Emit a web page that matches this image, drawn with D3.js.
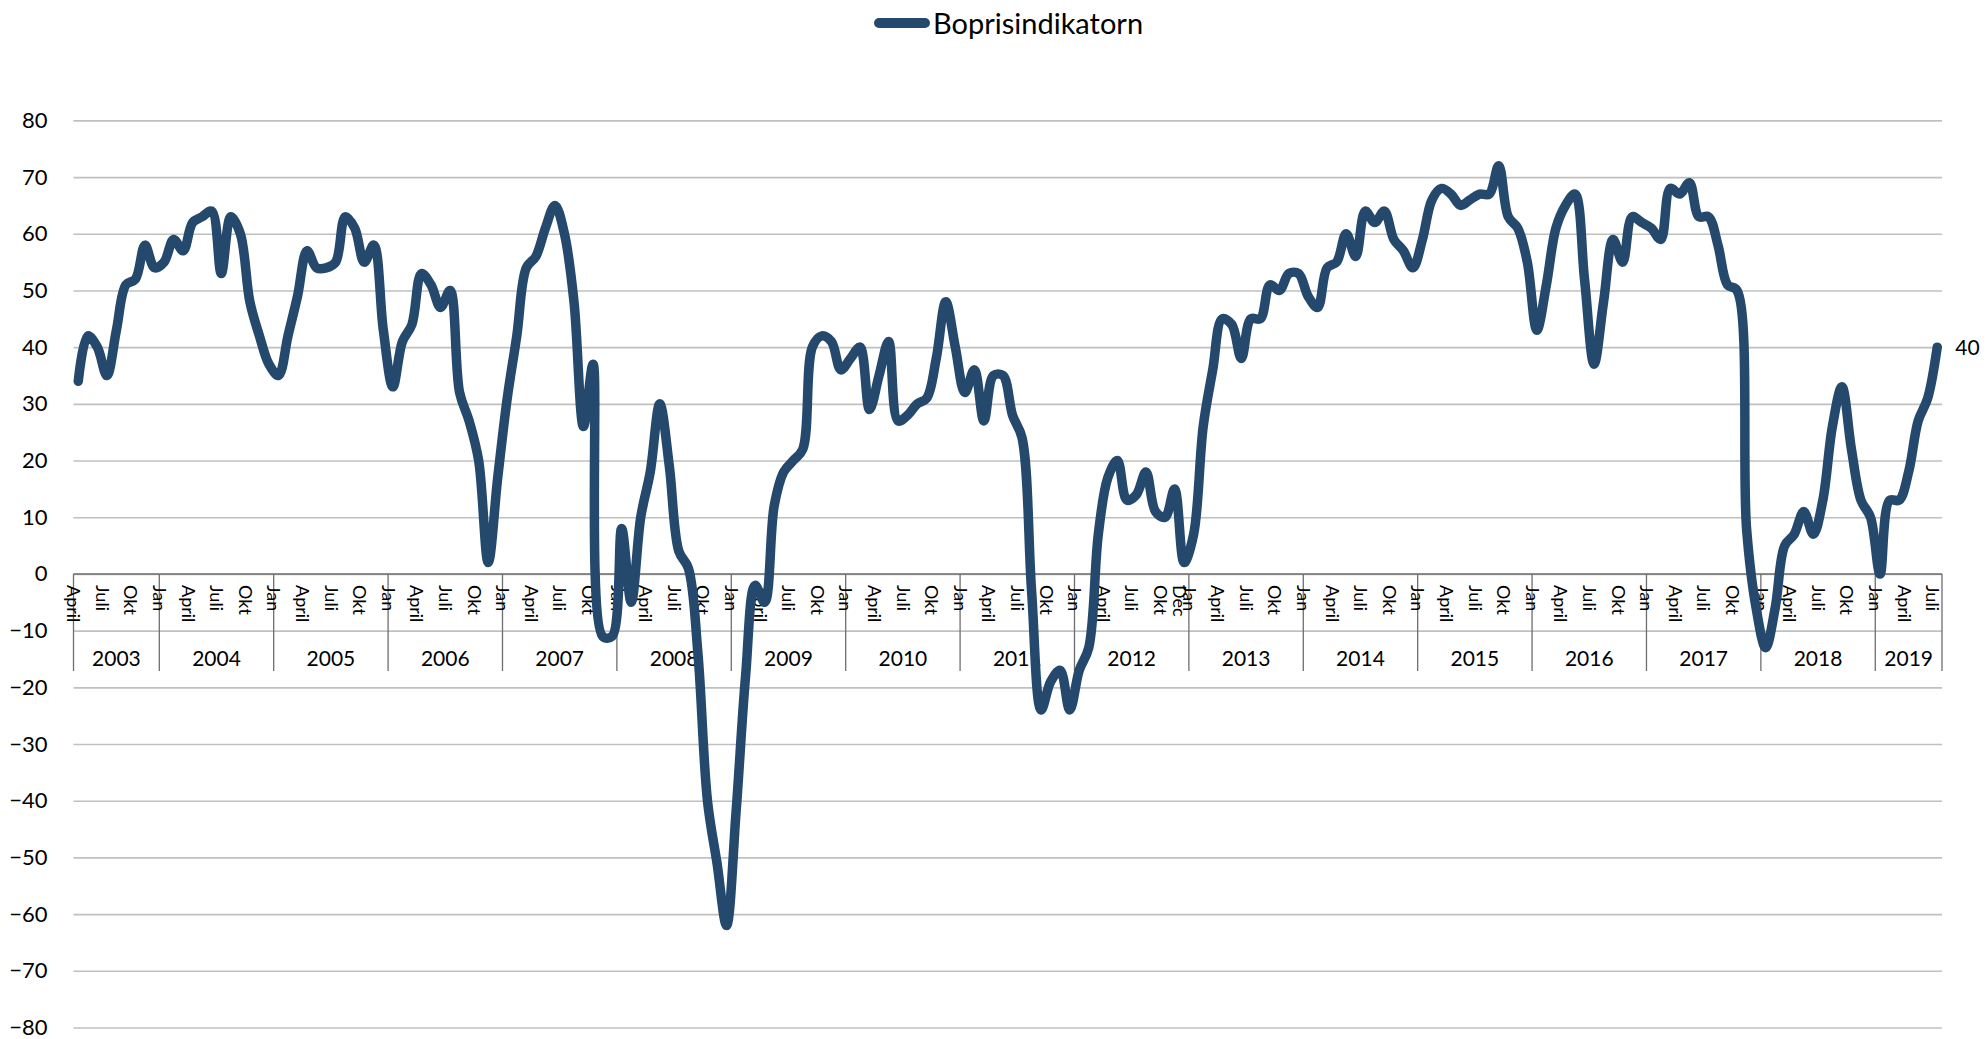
<!DOCTYPE html>
<html>
<head>
<meta charset="UTF-8">
<title>Boprisindikatorn</title>
<script src="https://cdn.jsdelivr.net/npm/d3@7/dist/d3.min.js"></script>
<style>
  body { margin: 0; background: #ffffff; }
  text { font-family: Lato, "Open Sans", sans-serif; fill: #000; }
</style>
</head>
<body>
<script>
// data: monthly, April 2003 - July 2019
var startYear = 2003, startMonth = 3; // 0 = Jan
var monthNames = ["Jan", "Feb", "Mars", "April", "Maj", "Juni", "Juli", "Aug", "Sep", "Okt", "Nov", "Dec"];
var labelMonths = ["Jan", "April", "Juli", "Okt"];
var extraLabels = ["2012-Dec"];
var years = [2003, 2004, 2005, 2006, 2007, 2008, 2009, 2010, 2011, 2012, 2013, 2014, 2015, 2016, 2017, 2018, 2019];
var yTicks = [80, 70, 60, 50, 40, 30, 20, 10, 0, -10, -20, -30, -40, -50, -60, -70, -80];
var seriesName = "Boprisindikatorn";

var values = [
  34, 42, 40, 35, 43, 51, 52, 58, 54, 55, 59, 57,
  62, 63, 64, 53, 63, 60, 48, 42, 37, 35, 42, 49,
  57, 54, 54, 55, 63, 61, 55, 58, 43, 33, 41, 44,
  53, 51, 47, 50, 32, 27, 20, 2, 17, 31, 42, 54,
  56, 61, 65, 60, 48, 26, 37, -11, -11, 8, -5, 10,
  18, 30, 19, 4, 1, -14, -40, -51, -62, -42, -18, -2,
  -5, 12, 18, 20, 22, 40, 42, 41, 36, 38, 40, 29,
  35, 41, 27, 28, 30, 31, 38, 48, 40, 32, 36, 27,
  35, 35, 28, 24, -3, -24, -19, -17, -24, -17, -13, 7,
  17, 20, 13, 14, 18, 11, 10, 15, 2, 7, 26, 36,
  45, 44, 38, 45, 45, 51, 50, 53, 53, 49, 47, 54,
  55, 60, 56, 64, 62, 64, 59, 57, 54, 59, 66, 68,
  67, 65, 66, 67, 67, 72, 63, 61, 55, 43, 51, 61,
  65, 67, 52, 37, 48, 59, 55, 63, 62, 61, 59, 68,
  67, 69, 63, 63, 58, 51, 50, 8, -6, -13, -6, 5,
  7, 11, 7, 13, 26, 33, 22, 13, 10, 0, 13, 13,
  18, 27, 31, 40
];

var categories = values.map(function (d, i) {
    var m = startMonth + i;
    return { year: startYear + Math.floor(m / 12), month: monthNames[m % 12], idx: i };
});

var W = 1988, H = 1039;
var plotLeft = 73.5, plotRight = 1942, plotTop = 120.4, plotBottom = 1027.5;

var svg = d3.select("body").append("svg")
    .attr("width", W).attr("height", H);

var x = d3.scaleBand().domain(d3.range(values.length)).range([plotLeft, plotRight]).padding(0);
var y = d3.scaleLinear().domain([-80, 80]).range([plotBottom, plotTop]);
var bw = x.bandwidth();

// gridlines + y labels
var yAxis = d3.axisLeft(y).tickValues(yTicks).tickSize(-(plotRight - plotLeft)).tickPadding(26);
var gy = svg.append("g").attr("transform", "translate(" + plotLeft + ",0)").call(yAxis);
gy.select(".domain").remove();
gy.selectAll(".tick line").attr("stroke", "#c0c0c0").attr("stroke-width", 1.6);
gy.selectAll(".tick text").style("font-size", "22px").attr("fill", "#000");

// category axis
var y0 = y(0), yLabelTop = 585, yBoxBottom = 671;
svg.append("line")
    .attr("x1", plotLeft).attr("x2", plotRight).attr("y1", y0).attr("y2", y0)
    .attr("stroke", "#6e6e6e").attr("stroke-width", 1.5);

var yearBounds = [];
years.forEach(function (yr) {
    var idx = categories.filter(function (c) { return c.year === yr; }).map(function (c) { return c.idx; });
    yearBounds.push({ year: yr, first: d3.min(idx), last: d3.max(idx) });
});

var dividers = yearBounds.map(function (b) { return x(b.first); }).concat([plotRight]);
svg.selectAll("line.div").data(dividers).enter().append("line")
    .attr("class", "div")
    .attr("x1", function (d) { return d; }).attr("x2", function (d) { return d; })
    .attr("y1", y0).attr("y2", yBoxBottom)
    .attr("stroke", "#6e6e6e").attr("stroke-width", 1.3);

var labelled = categories.filter(function (c) {
    return labelMonths.indexOf(c.month) >= 0 || extraLabels.indexOf(c.year + "-" + c.month) >= 0;
});
svg.selectAll("text.mon").data(labelled).enter().append("text")
    .attr("class", "mon")
    .attr("transform", function (c) { return "translate(" + x(c.idx) + "," + yLabelTop + ") rotate(90)"; })
    .attr("dy", "0.35em")
    .style("font-size", "18px")
    .text(function (c) { return c.month; });

svg.selectAll("text.yr").data(yearBounds).enter().append("text")
    .attr("class", "yr")
    .attr("x", function (b) { return (x(b.first) + x(b.last) + bw) / 2; })
    .attr("y", 659)
    .attr("dy", "0.35em")
    .attr("text-anchor", "middle")
    .style("font-size", "21px")
    .text(function (b) { return b.year; });

// series line
var line = d3.line()
    .x(function (d, i) { return x(i) + bw / 2; })
    .y(function (d) { return y(d); })
    .curve(d3.curveCatmullRom.alpha(0.5));

svg.append("path").datum(values)
    .attr("d", line)
    .attr("fill", "none")
    .attr("stroke", "#24496d")
    .attr("stroke-width", 9.5)
    .attr("stroke-linejoin", "round")
    .attr("stroke-linecap", "round");

// last value label
var last = values.length - 1;
svg.append("text")
    .attr("x", x(last) + bw / 2 + 18)
    .attr("y", y(values[last]))
    .attr("dy", "0.35em")
    .style("font-size", "21px")
    .text(values[last]);

// legend
svg.append("line")
    .attr("x1", 879).attr("x2", 925).attr("y1", 23).attr("y2", 23)
    .attr("stroke", "#24496d").attr("stroke-width", 10).attr("stroke-linecap", "round");
svg.append("text")
    .attr("x", 933).attr("y", 24)
    .attr("dy", "0.35em")
    .style("font-size", "29px")
    .text(seriesName);
</script>
</body>
</html>
